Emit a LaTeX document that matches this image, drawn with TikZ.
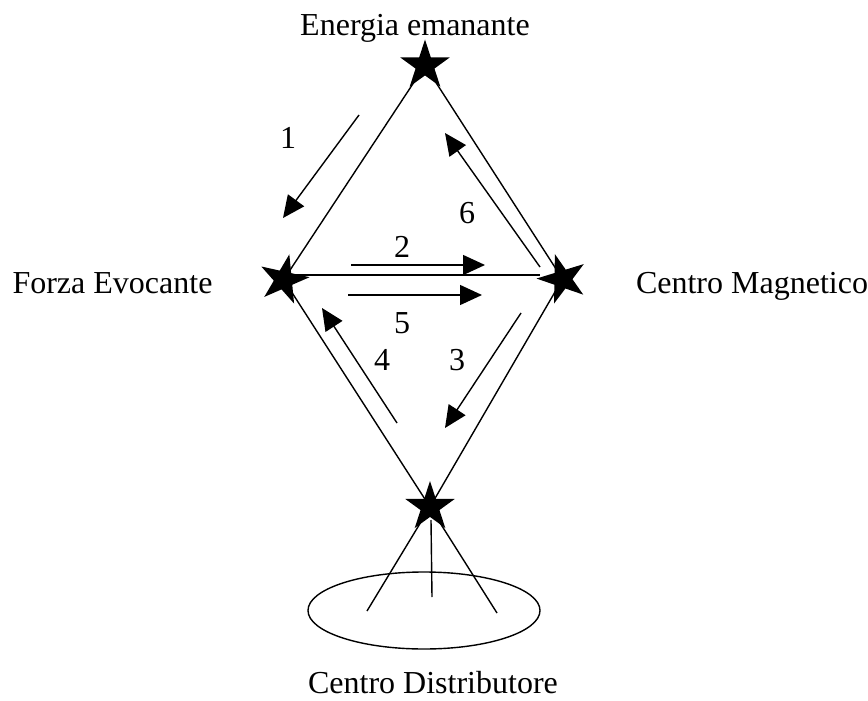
\documentclass[tikz,border=0pt]{standalone}
\usepackage{fontspec}
\setmainfont{Liberation Serif}
\usetikzlibrary{shapes.geometric,arrows.meta}
\begin{document}
\begin{tikzpicture}[x=1pt,y=-1pt,
  starnode/.style={star, star points=5, star point ratio=2.618, fill=black, draw=none, minimum size=52pt, inner sep=0pt},
  lbl/.style={inner sep=0pt, font=\fontsize{32}{36}\selectfont},
  ttl/.style={inner sep=0pt, anchor=base, font=\fontsize{32}{36}\selectfont},
  edge/.style={line width=1.4pt},
  flow/.style={line width=1.4pt, -{Triangle[length=22pt,width=20pt]}}]
\useasboundingbox (0,0) rectangle (868,701);
% star positions
\coordinate (T) at (425,65.5);
\coordinate (L) at (283.7,279.7);
\coordinate (R) at (562.5,279);
\coordinate (B) at (430,507);
% diamond sides
\draw[edge] (T) -- (L);
\draw[edge] (T) -- (R);
\coordinate (h1) at (290,275);
\coordinate (h2) at (540,275);
\draw[edge] (h1) -- (h2);
\coordinate (fl) at (367,611);
\coordinate (fr) at (497,613);
\coordinate (m1) at (431,520);
\coordinate (m2) at (432,597);
\draw[edge] (L) -- (B) -- (fr);
\draw[edge] (R) -- (B) -- (fl);
\draw[edge] (m1) -- (m2);
% ellipse
\node[draw, ellipse, line width=1.4pt, minimum width=232pt, minimum height=77pt, inner sep=0pt] (disc) at (424,610.5) {};
% stars
\node[starnode] (sT) at (T) {};
\node[starnode, rotate=-12.5] (sL) at (L) {};
\node[starnode, rotate=17] (sR) at (R) {};
\node[starnode] (sB) at (B) {};
% arrows
\coordinate (a1s) at (359,115); \coordinate (a1e) at (283,218);
\coordinate (a2s) at (351,265); \coordinate (a2e) at (485,265);
\coordinate (a5s) at (348,295); \coordinate (a5e) at (482,295);
\coordinate (a4s) at (397,423); \coordinate (a4e) at (322,308);
\coordinate (a3s) at (521,313); \coordinate (a3e) at (445,428);
\coordinate (a6s) at (540,267); \coordinate (a6e) at (445,133);
\draw[flow] (a1s) -- (a1e);
\draw[flow] (a2s) -- (a2e);
\draw[flow] (a5s) -- (a5e);
\draw[flow] (a4s) -- (a4e);
\draw[flow] (a3s) -- (a3e);
\draw[flow] (a6s) -- (a6e);
% numbers
\node[lbl] (n1) at (288,138) {1};
\node[lbl] (n6) at (467,213) {6};
\node[lbl] (n2) at (402,247) {2};
\node[lbl] (n5) at (402,323) {5};
\node[lbl] (n4) at (382,360) {4};
\node[lbl] (n3) at (457,360) {3};
% titles
\node[ttl] (tE) at (415,36) {Energia emanante};
\node[ttl] (tF) at (112.5,293) {Forza Evocante};
\node[ttl] (tM) at (752,293) {Centro Magnetico};
\node[ttl] (tD) at (433,693) {Centro Distributore};
\end{tikzpicture}
\end{document}
